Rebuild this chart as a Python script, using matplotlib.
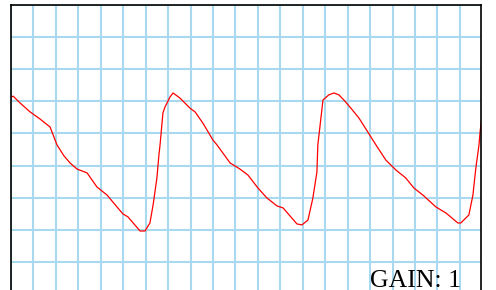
import matplotlib
matplotlib.use("Agg")
import matplotlib.pyplot as plt

# trace, in grid divisions
t = [0.00, 0.10, 0.40, 0.85, 1.29, 1.74, 2.05, 2.36, 2.63, 2.94, 3.39, 3.83, 4.28, 4.72,
     4.99, 5.21, 5.75, 5.97, 6.19, 6.33, 6.50, 6.59, 6.64, 6.77, 6.86, 7.08, 7.22, 7.53,
     7.97, 8.20, 8.55, 9.00, 9.18, 9.76, 10.20, 10.56, 11.00, 11.40, 11.85, 12.12, 12.74,
     12.96, 13.23, 13.45, 13.63, 13.67, 13.90, 14.03, 14.16, 14.39, 14.61, 14.83, 15.14,
     15.50, 15.90, 16.26, 16.70, 17.15, 17.59, 17.95, 18.35, 18.93, 19.38, 19.91, 20.04,
     20.40, 20.58, 20.71, 20.85, 20.90, 20.96]
v = [6.13, 6.16, 5.95, 5.67, 5.45, 5.20, 4.64, 4.30, 4.08, 3.89, 3.77, 3.33, 3.08, 2.71,
     2.49, 2.40, 1.96, 1.96, 2.21, 2.77, 3.61, 4.33, 4.64, 5.64, 5.82, 6.13, 6.26, 6.10,
     5.79, 5.67, 5.32, 4.79, 4.64, 4.08, 3.89, 3.70, 3.30, 2.99, 2.74, 2.68, 2.18,
     2.15, 2.30, 2.99, 3.80, 4.64, 6.04, 6.12, 6.20, 6.26, 6.20, 6.04, 5.79,
     5.48, 5.04, 4.64, 4.17, 3.86, 3.61, 3.30, 3.08, 2.71, 2.52, 2.21, 2.21,
     2.46, 3.08, 3.92, 4.64, 5.05, 5.42]

x_div = list(range(0, 21))
y_div = list(range(1, 10))
gain_label = "GAIN: 1"

fig = plt.figure(figsize=(4.96, 2.90), dpi=100)
ax = fig.add_axes([11 / 496, 0, 470 / 496, 285 / 290])

ax.set_xlim(0, 20.94)
ax.set_ylim(0.122, 9)
ax.set_xticks(x_div)
ax.set_yticks(y_div)
ax.tick_params(length=0, labelbottom=False, labelleft=False)
ax.grid(True, color="#a8d9ee", linewidth=1.5)
ax.set_axisbelow(True)

for s in ["left", "top", "right"]:
    ax.spines[s].set_color("black")
    ax.spines[s].set_linewidth(1.2)
ax.spines["bottom"].set_visible(False)

ax.plot(t, v, color="#ff0000", linewidth=0.9, clip_on=True)

ax.text(0.957, 0.0105, gain_label, transform=ax.transAxes, ha="right", va="baseline",
        fontsize=18.5, family="Liberation Serif", color="black")

fig.savefig("out.png", dpi=100)
